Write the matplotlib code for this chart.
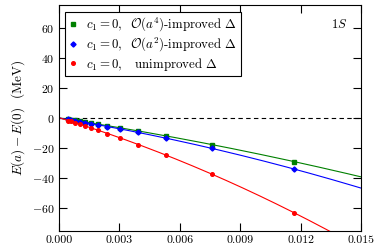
import numpy as np
import matplotlib
matplotlib.use("Agg")
import matplotlib.pyplot as plt

plt.rcParams['font.family'] = 'serif'
plt.rcParams['font.serif'] = ['cmr10']
plt.rcParams['mathtext.fontset'] = 'cm'
plt.rcParams['axes.formatter.use_mathtext'] = True
plt.rcParams['font.size'] = 8

# lattice spacing squared values
a2 = [0.00045, 0.00061, 0.00078, 0.00103, 0.00128, 0.0016, 0.00194,
      0.0024, 0.00303, 0.00394, 0.00532, 0.00758, 0.01166]

e_unimp = [-1.7, -2.3, -3.0, -4.0, -5.2, -6.6, -8.2, -10.3, -13.2,
           -17.6, -24.7, -37.1, -62.8]
e_a2 = [-1.0, -1.4, -1.8, -2.4, -3.0, -3.7, -4.6, -5.7, -7.1,
        -9.6, -13.4, -20.2, -33.8]
e_a4 = [-0.9, -1.2, -1.6, -2.1, -2.7, -3.3, -4.1, -5.1, -6.5,
        -8.6, -11.9, -17.6, -28.9]

labels = [r'$c_1=0$,  $\mathcal{O}(a^4)$-improved $\Delta$',
          r'$c_1=0$,  $\mathcal{O}(a^2)$-improved $\Delta$',
          r'$c_1=0$,   unimproved $\Delta$']
colors = ['#008000', '#0000ff', '#ff0000']
markers = ['s', 'D', 'o']

fig = plt.figure(figsize=(3.82, 2.49), dpi=100)
ax = fig.add_axes([0.1545, 0.0723, 0.7905, 0.9077])

ax.axhline(0, color='k', ls=(0, (4, 3)), lw=0.8)

xx = np.linspace(0, 0.015, 200)
for ys, lab, c, m in zip([e_a4, e_a2, e_unimp], labels, colors, markers):
    coef = np.polyfit(a2, ys, 2)
    ax.plot(xx, np.polyval(coef, xx), color=c, lw=0.8)
    ax.plot(a2, ys, ls='none', marker=m, ms=2.6, color=c, label=lab)

ax.set_xlim(0, 0.015)
ax.set_ylim(-75, 75)
ax.set_xticks([0.0, 0.003, 0.006, 0.009, 0.012, 0.015])
ax.set_xticklabels(['0.000', '0.003', '0.006', '0.009', '0.012', '0.015'])
ax.set_yticks([-60, -40, -20, 0, 20, 40, 60])
ax.tick_params(direction='in', top=True, right=True, length=6, width=0.8,
               labelsize=8.5)
for s in ax.spines.values():
    s.set_linewidth(0.8)

ax.set_ylabel(r'$E(a)-E(0)$  (MeV)', labelpad=3, fontsize=9.5)
ax.text(0.955, 0.915, r'$1S$', transform=ax.transAxes, ha='right',
        va='center', fontsize=9)

leg = ax.legend(loc='upper left', bbox_to_anchor=(0.02, 0.97), numpoints=1,
                fancybox=False, framealpha=1, edgecolor='k', fontsize=9.3,
                handlelength=0.7, handletextpad=0.6, borderpad=0.3,
                labelspacing=0.15, borderaxespad=0)
leg.get_frame().set_linewidth(0.8)

fig.savefig('out.png', dpi=100)
